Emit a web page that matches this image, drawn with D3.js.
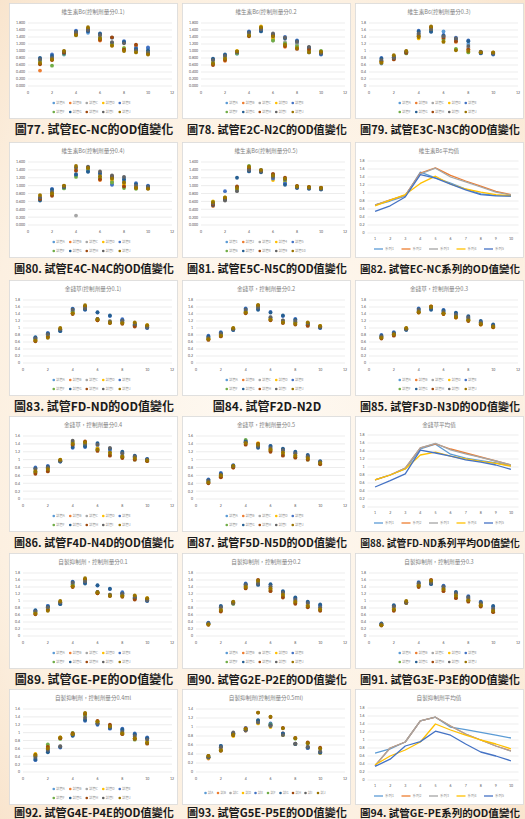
<!DOCTYPE html>
<html>
<head>
<meta charset="utf-8">
<script src="https://cdn.jsdelivr.net/npm/d3@7"></script>
<style>
  html, body { margin: 0; padding: 0; background: #fcf0e2; }
  svg { display: block; }
</style>
</head>
<body>
<script>
// ---- shared axes / labels ----
const days = [1, 2, 3, 4, 5, 6, 7, 8, 9, 10];
const xTicks = [0, 2, 4, 6, 8, 10, 12];
const tubeLabels = ["試管A", "試管B", "試管C", "試管D", "試管E", "試管F", "試管G", "試管H", "試管I", "試管J"];
const tubeLabelsNum = ["試管1", "試管2", "試管3", "試管4", "試管5", "試管6", "試管7", "試管8", "試管9", "試管10"];
const tubeLabelsShort = ["試A", "試B", "試C", "試D", "試E", "試F", "試G", "試H", "試I", "試J"];
const seriesNames = ["系列1", "系列2", "系列3", "系列4", "系列5"];
const tubeColors = ["#5b9bd5", "#ed7d31", "#a5a5a5", "#ffc000", "#4472c4", "#70ad47", "#255e91", "#9e480e", "#636363", "#997300"];
const seriesColors = ["#5b9bd5", "#ed7d31", "#a5a5a5", "#ffc000", "#4472c4"];

// ---- 維生素B6 ----
const b6Dose01 = [
  [.66, .82, .90, 1.47, 1.52, 1.36, 1.20, 1.25, 1.10, 1.08],
  [.44, .76, .95, 1.50, 1.60, 1.30, 1.16, 1.02, 1.16, .92],
  [.70, .80, .93, 1.52, 1.58, 1.40, 1.22, 1.05, 1.00, .98],
  [.64, .78, .97, 1.48, 1.64, 1.34, 1.18, 1.08, .98, .94],
  [.78, .90, .96, 1.58, 1.56, 1.48, 1.24, 1.28, 1.08, 1.10],
  [.72, .58, .92, 1.46, 1.62, 1.38, 1.20, 1.08, 1.00, .98],
  [.80, .86, .94, 1.55, 1.57, 1.50, 1.38, 1.26, 1.05, 1.02],
  [.62, .74, .96, 1.49, 1.62, 1.32, 1.39, 1.04, 1.18, .92],
  [.76, .80, .99, 1.53, 1.60, 1.45, 1.25, 1.22, 1.02, .96],
  [.66, .76, 1.00, 1.45, 1.68, 1.36, 1.15, 1.00, .96, .90]
];
const b6Dose02 = [
  [.68, .82, .92, 1.48, 1.58, 1.36, 1.20, 1.22, .96, .92],
  [.62, .72, .96, 1.45, 1.62, 1.40, 1.12, 1.12, 1.00, .96],
  [.70, .80, .94, 1.50, 1.64, 1.30, 1.26, 1.18, 1.04, .98],
  [.72, .76, 1.00, 1.47, 1.70, 1.34, 1.16, 1.10, 1.02, .94],
  [.76, .88, .95, 1.56, 1.60, 1.46, 1.40, 1.30, 1.08, .90],
  [.66, .84, .93, 1.46, 1.66, 1.30, 1.22, 1.14, .98, 1.00],
  [.78, .90, .98, 1.54, 1.56, 1.48, 1.36, 1.28, 1.10, .92],
  [.60, .74, .97, 1.42, 1.65, 1.44, 1.14, 1.06, 1.04, .96],
  [.74, .86, .96, 1.52, 1.62, 1.50, 1.38, 1.26, 1.12, .94],
  [.64, .78, .99, 1.44, 1.68, 1.42, 1.18, 1.08, .96, .98]
];
const b6Dose03 = [
  [.64, .80, .94, 1.52, 1.58, 1.56, 1.30, 1.20, .94, .92],
  [.70, .78, .96, 1.46, 1.66, 1.36, 1.26, 1.06, .96, .94],
  [.72, .82, .95, 1.48, 1.62, 1.40, 1.30, 1.10, .95, .93],
  [.68, .86, .98, 1.36, 1.64, 1.28, 1.04, .98, .97, .95],
  [.80, .84, .97, 1.58, 1.56, 1.46, 1.38, 1.30, .93, .90],
  [.72, .80, .93, 1.44, 1.60, 1.32, 1.06, .96, .96, .94],
  [.78, .82, .96, 1.56, 1.55, 1.44, 1.34, 1.28, .94, .92],
  [.70, .76, .95, 1.42, 1.68, 1.38, 1.28, 1.04, .97, .95],
  [.74, .80, .99, 1.50, 1.62, 1.42, 1.36, 1.14, .98, .93],
  [.66, .88, 1.00, 1.40, 1.70, 1.26, 1.02, 1.00, .96, .96]
];
const b6Dose04 = [
  [.66, .86, .94, 1.30, 1.36, 1.22, 1.04, 1.20, .96, .98],
  [.70, .78, .98, 1.40, 1.44, 1.14, 1.10, 1.00, .94, .94],
  [.72, .82, .96, .24, 1.40, 1.28, 1.12, 1.06, .98, .96],
  [.74, .80, .97, 1.44, 1.46, 1.18, 1.16, 1.02, .96, .95],
  [.68, .92, .95, 1.26, 1.38, 1.30, 1.02, 1.12, 1.06, 1.00],
  [.64, .76, .93, 1.22, 1.42, 1.20, 1.08, .94, .92, .94],
  [.62, .90, .96, 1.28, 1.35, 1.32, 1.20, 1.16, 1.04, .98],
  [.66, .74, .99, 1.38, 1.46, 1.16, 1.24, .98, .95, .93],
  [.70, .84, .97, 1.46, 1.48, 1.36, 1.26, 1.22, 1.00, .97],
  [.76, .80, 1.00, 1.50, 1.45, 1.24, 1.18, 1.08, .94, .92]
];
const b6Dose05 = [
  [.52, .66, .90, 1.38, 1.40, 1.22, 1.04, .96, .94, .92],
  [.48, .64, .92, 1.42, 1.38, 1.26, 1.10, .97, .95, .93],
  [.54, .68, .88, 1.44, 1.36, 1.20, 1.08, .95, .93, .91],
  [.60, .70, .94, 1.46, 1.35, 1.14, 1.12, .98, .96, .94],
  [.56, .86, .96, 1.38, 1.37, 1.18, 1.06, .96, .94, .92],
  [.58, .66, .90, 1.50, 1.36, 1.24, 1.14, .98, .95, .93],
  [.50, .64, 1.20, 1.36, 1.34, 1.28, 1.02, .94, .92, .90],
  [.52, .68, .98, 1.44, 1.38, 1.30, 1.20, .99, .97, .95],
  [.55, .62, .86, 1.40, 1.36, 1.22, 1.16, .96, .94, .92],
  [.58, .70, .94, 1.48, 1.40, 1.26, 1.18, .98, .96, .94]
];
const b6Mean = [
  [.70, .80, .92, 1.52, 1.38, 1.25, 1.10, .98, .94, .93],
  [.70, .83, .94, 1.50, 1.63, 1.44, 1.30, 1.17, 1.04, .96],
  [.70, .82, .94, 1.48, 1.62, 1.40, 1.28, 1.15, 1.02, .95],
  [.68, .82, .96, 1.24, 1.42, 1.22, 1.10, 1.02, .96, .93],
  [.54, .68, .90, 1.46, 1.37, 1.22, 1.08, .96, .93, .92]
];

// ---- 金錢草 ----
const jqDose01 = [
  [.74, .84, .92, 1.48, 1.54, 1.26, 1.18, 1.20, 1.10, 1.02],
  [.64, .76, .96, 1.42, 1.60, 1.24, 1.16, 1.16, 1.06, 1.06],
  [.70, .80, .94, 1.50, 1.58, 1.26, 1.20, 1.18, 1.12, 1.04],
  [.66, .78, .98, 1.44, 1.62, 1.22, 1.18, 1.14, 1.14, 1.08],
  [.72, .86, .93, 1.55, 1.52, 1.44, 1.34, 1.25, 1.08, 1.00],
  [.68, .80, .95, 1.46, 1.58, 1.24, 1.16, 1.16, 1.08, 1.04],
  [.73, .84, .91, 1.54, 1.53, 1.45, 1.36, 1.22, 1.10, 1.01],
  [.62, .74, .97, 1.40, 1.62, 1.22, 1.14, 1.12, 1.04, 1.06],
  [.70, .82, .96, 1.52, 1.56, 1.26, 1.18, 1.20, 1.12, 1.02],
  [.64, .72, 1.00, 1.42, 1.65, 1.25, 1.15, 1.14, 1.16, 1.08]
];
const jqDose02 = [
  [.74, .84, .95, 1.50, 1.56, 1.30, 1.20, 1.20, 1.12, 1.04],
  [.68, .78, .97, 1.44, 1.62, 1.26, 1.18, 1.16, 1.08, 1.02],
  [.72, .82, .96, 1.48, 1.60, 1.32, 1.22, 1.18, 1.10, 1.05],
  [.70, .80, .99, 1.46, 1.64, 1.24, 1.20, 1.14, 1.14, 1.06],
  [.78, .88, .94, 1.56, 1.54, 1.46, 1.34, 1.26, 1.10, 1.00],
  [.70, .80, .96, 1.46, 1.60, 1.26, 1.18, 1.16, 1.08, 1.03],
  [.76, .86, .95, 1.54, 1.52, 1.44, 1.36, 1.24, 1.12, 1.01],
  [.66, .76, .98, 1.42, 1.64, 1.22, 1.14, 1.10, 1.06, 1.04],
  [.72, .84, .97, 1.52, 1.58, 1.30, 1.22, 1.20, 1.14, 1.03],
  [.68, .78, 1.00, 1.44, 1.66, 1.24, 1.16, 1.12, 1.16, 1.06]
];
const jqDose03 = [
  [.74, .84, .96, 1.50, 1.56, 1.48, 1.38, 1.28, 1.16, 1.06],
  [.72, .80, .98, 1.46, 1.60, 1.42, 1.32, 1.24, 1.12, 1.04],
  [.74, .82, .97, 1.48, 1.58, 1.44, 1.36, 1.26, 1.14, 1.06],
  [.76, .86, .99, 1.44, 1.62, 1.40, 1.30, 1.22, 1.10, 1.02],
  [.80, .88, .95, 1.56, 1.54, 1.52, 1.42, 1.32, 1.18, 1.08],
  [.72, .80, .96, 1.46, 1.58, 1.42, 1.34, 1.24, 1.12, 1.04],
  [.78, .86, .95, 1.54, 1.52, 1.50, 1.44, 1.34, 1.20, 1.10],
  [.70, .78, .98, 1.44, 1.62, 1.40, 1.30, 1.20, 1.10, 1.02],
  [.76, .84, .97, 1.52, 1.58, 1.46, 1.38, 1.30, 1.16, 1.06],
  [.72, .82, 1.00, 1.46, 1.60, 1.42, 1.32, 1.22, 1.12, 1.04]
];
const jqDose04 = [
  [.70, .80, .96, 1.36, 1.36, 1.30, 1.20, 1.12, 1.06, 1.00],
  [.66, .74, .98, 1.40, 1.40, 1.26, 1.14, 1.08, 1.02, .98],
  [.72, .78, .97, 1.44, 1.42, 1.36, 1.22, 1.10, 1.04, .99],
  [.74, .76, .99, 1.46, 1.44, 1.28, 1.16, 1.06, 1.02, .98],
  [.80, .84, .95, 1.30, 1.32, 1.40, 1.26, 1.18, 1.08, 1.02],
  [.68, .72, .96, 1.42, 1.38, 1.24, 1.12, 1.06, 1.00, .97],
  [.78, .82, .95, 1.32, 1.34, 1.42, 1.28, 1.20, 1.10, 1.01],
  [.64, .70, .98, 1.38, 1.46, 1.22, 1.10, 1.04, 1.00, .96],
  [.76, .80, .97, 1.48, 1.40, 1.38, 1.30, 1.16, 1.08, 1.00],
  [.70, .76, 1.00, 1.40, 1.44, 1.26, 1.18, 1.08, 1.04, .98]
];
const jqDose05 = [
  [.44, .60, .82, 1.44, 1.36, 1.28, 1.20, 1.12, 1.06, .92],
  [.42, .56, .80, 1.40, 1.40, 1.24, 1.14, 1.08, 1.02, .90],
  [.46, .62, .84, 1.46, 1.38, 1.30, 1.22, 1.14, 1.08, .93],
  [.48, .58, .81, 1.42, 1.42, 1.26, 1.16, 1.10, 1.04, .91],
  [.50, .66, .86, 1.48, 1.32, 1.34, 1.26, 1.18, 1.10, .95],
  [.44, .58, .82, 1.50, 1.36, 1.22, 1.12, 1.06, 1.00, .89],
  [.48, .64, .85, 1.46, 1.30, 1.35, 1.28, 1.20, 1.12, .96],
  [.40, .55, .80, 1.38, 1.40, 1.20, 1.10, 1.05, 1.00, .88],
  [.46, .62, .83, 1.44, 1.34, 1.30, 1.24, 1.16, 1.08, .94],
  [.42, .60, .84, 1.42, 1.38, 1.26, 1.18, 1.10, 1.04, .92]
];
const jqMean = [
  [.68, .80, .95, 1.45, 1.57, 1.32, 1.22, 1.16, 1.10, 1.03],
  [.68, .80, .97, 1.48, 1.58, 1.45, 1.35, 1.25, 1.15, 1.05],
  [.68, .80, .97, 1.48, 1.59, 1.43, 1.33, 1.24, 1.15, 1.05],
  [.68, .80, .95, 1.30, 1.37, 1.27, 1.20, 1.14, 1.09, 1.02],
  [.50, .66, .83, 1.42, 1.35, 1.27, 1.18, 1.12, 1.05, .94]
];

// ---- 自製抑制劑 ----
const zjDose01 = [
  [.74, .86, .92, 1.48, 1.54, 1.25, 1.17, 1.20, 1.10, 1.02],
  [.64, .76, .96, 1.42, 1.60, 1.24, 1.16, 1.16, 1.06, 1.06],
  [.70, .80, .94, 1.50, 1.58, 1.26, 1.18, 1.18, 1.12, 1.04],
  [.66, .78, .98, 1.44, 1.62, 1.22, 1.18, 1.14, 1.14, 1.08],
  [.72, .86, .93, 1.55, 1.52, 1.44, 1.34, 1.25, 1.08, 1.00],
  [.68, .80, .95, 1.46, 1.58, 1.24, 1.16, 1.16, 1.08, 1.04],
  [.73, .84, .91, 1.54, 1.50, 1.45, 1.35, 1.22, 1.10, 1.01],
  [.62, .74, .97, 1.40, 1.62, 1.22, 1.14, 1.12, 1.04, 1.06],
  [.70, .82, .96, 1.52, 1.56, 1.26, 1.18, 1.20, 1.12, 1.02],
  [.64, .72, 1.00, 1.42, 1.65, 1.25, 1.15, 1.14, 1.16, 1.08]
];
const zjDose02 = [
  [.36, .78, .92, 1.44, 1.52, 1.40, 1.20, 1.02, .92, .84],
  [.34, .74, .94, 1.40, 1.56, 1.34, 1.16, .98, .88, .78],
  [.35, .80, .93, 1.46, 1.58, 1.38, 1.22, 1.00, .90, .80],
  [.33, .76, .96, 1.42, 1.50, 1.32, 1.14, .96, .86, .76],
  [.38, .84, .95, 1.50, 1.48, 1.46, 1.26, 1.08, .96, .88],
  [.34, .72, .92, 1.38, 1.54, 1.30, 1.12, .94, .84, .74],
  [.37, .86, .97, 1.48, 1.46, 1.48, 1.28, 1.10, .98, .90],
  [.32, .70, .94, 1.36, 1.60, 1.28, 1.10, .92, .82, .72],
  [.36, .82, .95, 1.46, 1.50, 1.42, 1.24, 1.04, .94, .82],
  [.33, .74, .98, 1.40, 1.58, 1.36, 1.18, .98, .86, .76]
];
const zjDose03 = [
  [.34, .80, .94, 1.48, 1.54, 1.38, 1.18, 1.08, .94, .80],
  [.32, .76, .96, 1.44, 1.58, 1.34, 1.14, 1.04, .90, .74],
  [.33, .82, .95, 1.50, 1.56, 1.36, 1.20, 1.06, .92, .76],
  [.31, .78, .98, 1.46, 1.52, 1.30, 1.12, 1.02, .88, .72],
  [.36, .86, .97, 1.54, 1.50, 1.44, 1.24, 1.14, .98, .84],
  [.32, .74, .94, 1.42, 1.56, 1.32, 1.10, 1.00, .86, .70],
  [.35, .88, .96, 1.52, 1.48, 1.42, 1.26, 1.12, .96, .86],
  [.30, .72, .95, 1.40, 1.60, 1.28, 1.08, .98, .84, .68],
  [.34, .84, .97, 1.50, 1.52, 1.40, 1.22, 1.10, .94, .78],
  [.31, .76, 1.00, 1.44, 1.58, 1.34, 1.16, 1.02, .88, .72]
];
const zjDose04 = [
  [.34, .54, .64, .94, 1.34, 1.22, 1.12, 1.06, .90, .86],
  [.44, .62, .86, .98, 1.46, 1.28, 1.18, 1.00, .86, .76],
  [.36, .58, .66, .96, 1.36, 1.24, 1.14, 1.04, .94, .84],
  [.46, .66, .88, .97, 1.42, 1.28, 1.16, .98, .84, .78],
  [.30, .52, .62, .93, 1.30, 1.20, 1.10, 1.10, .98, .88],
  [.40, .70, .84, .99, 1.44, 1.26, 1.18, 1.00, .82, .74],
  [.32, .50, .64, .92, 1.32, 1.22, 1.12, 1.08, .96, .86],
  [.42, .64, .86, .98, 1.48, 1.30, 1.20, .96, .84, .72],
  [.38, .56, .65, .95, 1.38, 1.24, 1.14, 1.02, .92, .82],
  [.44, .60, .88, .96, 1.50, 1.28, 1.16, .98, .86, .74]
];
const zjDose05 = [
  [.32, .58, .84, .94, 1.10, 1.02, .84, .62, .54, .44],
  [.30, .52, .82, .92, 1.12, 1.04, .86, .63, .55, .43],
  [.34, .54, .86, .96, 1.14, 1.06, .84, .62, .56, .45],
  [.31, .50, .80, .94, 1.08, 1.00, .82, .62, .54, .42],
  [.33, .56, .85, .98, 1.12, 1.08, .85, .63, .53, .44],
  [.35, .48, .82, .95, 1.14, 1.06, .83, .74, .64, .52],
  [.32, .58, .86, .93, 1.15, 1.04, .86, .62, .55, .43],
  [.36, .47, .82, .97, 1.32, 1.22, .98, .76, .66, .54],
  [.33, .55, .88, .92, 1.10, 1.02, .82, .63, .56, .46],
  [.36, .48, .83, .96, 1.32, 1.23, .97, .75, .64, .52]
];
const zjMean = [
  [.67, .78, .95, 1.48, 1.57, 1.32, 1.26, 1.19, 1.12, 1.05],
  [.36, .80, .95, 1.48, 1.57, 1.35, 1.15, 1.00, .85, .73],
  [.36, .80, .95, 1.48, 1.57, 1.35, 1.15, 1.00, .85, .72],
  [.38, .60, .75, .95, 1.40, 1.25, 1.12, 1.00, .90, .78],
  [.34, .52, .85, .96, 1.22, 1.12, .90, .70, .60, .48]
];

// ---- panel list (reading order, three per row) ----
const panels = [
  { kind: "scatter", title: "維生素B6(控制劑量分0.1)", caption: "圖77. 試管EC-NC的OD值變化", data: b6Dose01, ymax: 1.8, fmt: ".3f", legend: tubeLabels },
  { kind: "scatter", title: "維生素B6(控制劑量分0.2", caption: "圖78. 試管E2C-N2C的OD值變化", data: b6Dose02, ymax: 1.8, fmt: ".3f", legend: tubeLabels },
  { kind: "scatter", title: "維生素B6(控制劑量分0.3)", caption: "圖79. 試管E3C-N3C的OD值變化", data: b6Dose03, ymax: 1.8, fmt: "~g", legend: tubeLabels },
  { kind: "scatter", title: "維生素B6(控制劑量分0.4)", caption: "圖80. 試管E4C-N4C的OD值變化", data: b6Dose04, ymax: 1.6, fmt: ".3f", legend: tubeLabels },
  { kind: "scatter", title: "維生素B6(控制劑量分0.5)", caption: "圖81. 試管E5C-N5C的OD值變化", data: b6Dose05, ymax: 1.6, fmt: ".3f", legend: tubeLabelsNum },
  { kind: "line", title: "維生素B6平均值", caption: "圖82. 試管EC-NC系列的OD值變化", data: b6Mean, ymax: 1.8 },
  { kind: "scatter", title: "金錢草(控制劑量分0.1)", caption: "圖83. 試管FD-ND的OD值變化", data: jqDose01, ymax: 1.8, fmt: "~g", legend: tubeLabels },
  { kind: "scatter", title: "金錢草，控制劑量分0.2", caption: "圖84. 試管F2D-N2D", data: jqDose02, ymax: 1.8, fmt: "~g", legend: tubeLabels },
  { kind: "scatter", title: "金錢草，控制劑量分0.3", caption: "圖85. 試管F3D-N3D的OD值變化", data: jqDose03, ymax: 1.8, fmt: "~g", legend: tubeLabels },
  { kind: "scatter", title: "金錢草，控制劑量分0.4", caption: "圖86. 試管F4D-N4D的OD值變化", data: jqDose04, ymax: 1.6, fmt: "~g", legend: tubeLabels },
  { kind: "scatter", title: "金錢草，控制劑量分0.5", caption: "圖87. 試管F5D-N5D的OD值變化", data: jqDose05, ymax: 1.6, fmt: "~g", legend: tubeLabels },
  { kind: "line", title: "金錢草平均值", caption: "圖88. 試管FD-ND系列平均OD值變化", data: jqMean, ymax: 1.8 },
  { kind: "scatter", title: "自製抑制劑，控制劑量分0.1", caption: "圖89. 試管GE-PE的OD值變化", data: zjDose01, ymax: 1.8, fmt: "~g", legend: tubeLabels },
  { kind: "scatter", title: "自製抑制劑，控制劑量分0.2", caption: "圖90. 試管G2E-P2E的OD值變化", data: zjDose02, ymax: 1.8, fmt: "~g", legend: tubeLabels },
  { kind: "scatter", title: "自製抑制劑，控制劑量分0.3", caption: "圖91. 試管G3E-P3E的OD值變化", data: zjDose03, ymax: 1.8, fmt: "~g", legend: tubeLabels },
  { kind: "scatter", title: "自製抑制劑，控制劑量分0.4ml", caption: "圖92. 試管G4E-P4E的OD值變化", data: zjDose04, ymax: 1.6, fmt: "~g", legend: tubeLabels },
  { kind: "scatter", title: "自製抑制劑(控制劑量分0.5ml)", caption: "圖93. 試管G5E-P5E的OD值變化", data: zjDose05, ymax: 1.4, fmt: "~g", legend: tubeLabelsShort, oneRow: true },
  { kind: "line", title: "自製抑制劑平均值", caption: "圖94. 試管GE-PE系列的OD值變化", data: zjMean, ymax: 1.8 }
];

// ---- page layout ----
const W = 525, H = 819;
const colX = [9, 182, 355];
const rowY = [3, 142, 280, 416, 553, 689];
const panelW = 168, panelH = 115;
const captionMax = 160, captionSize = 12;
const cjk = "'Noto Sans CJK TC', 'Noto Sans CJK SC', sans-serif";

const svg = d3.select("body").append("svg").attr("width", W).attr("height", H);

const defs = svg.append("defs");
const bg = defs.append("radialGradient").attr("id", "paper").attr("cx", "50%").attr("cy", "50%").attr("r", "75%");
bg.append("stop").attr("offset", "0%").attr("stop-color", "#fef9f2");
bg.append("stop").attr("offset", "70%").attr("stop-color", "#fcf0e1");
bg.append("stop").attr("offset", "100%").attr("stop-color", "#f8e2c9");
svg.append("rect").attr("width", W).attr("height", H).attr("fill", "url(#paper)");

const yTicksFor = ymax => d3.range(0, Math.round(ymax / 0.2) + 1).map(i => +(i * 0.2).toFixed(1));

function frame(g, p) {
  g.append("rect").attr("x", 0.5).attr("y", 0.5).attr("width", panelW).attr("height", panelH)
    .attr("fill", "#ffffff").attr("stroke", "#d9d9d9").attr("stroke-width", 0.8);
  g.append("text").attr("x", panelW / 2).attr("y", 11).attr("text-anchor", "middle")
    .attr("font-family", cjk).attr("font-size", 5.6).attr("fill", "#7f7f7f").text(p.title);
}

function gridAndY(g, y, x0, x1, ticks, fmt) {
  g.append("g").selectAll("line").data(ticks).join("line")
    .attr("x1", x0).attr("x2", x1).attr("y1", d => y(d)).attr("y2", d => y(d))
    .attr("stroke", "#d9d9d9").attr("stroke-width", 0.5);
  g.append("g").selectAll("text").data(ticks).join("text")
    .attr("x", x0 - 3).attr("y", d => y(d) + 1.4).attr("text-anchor", "end")
    .attr("font-family", "Calibri, 'Liberation Sans', sans-serif").attr("font-size", 4)
    .attr("fill", "#595959").text(d => d3.format(fmt)(d));
}

function drawScatter(g, p) {
  const left = p.fmt === ".3f" ? 19 : 14;
  const x = d3.scaleLinear().domain([0, 12]).range([left, 163]);
  const y = d3.scaleLinear().domain([0, p.ymax]).range([83, 20]);
  gridAndY(g, y, left, 163, yTicksFor(p.ymax), p.fmt);
  g.append("g").selectAll("text").data(xTicks).join("text")
    .attr("x", d => x(d)).attr("y", 91).attr("text-anchor", "middle")
    .attr("font-family", "Calibri, 'Liberation Sans', sans-serif").attr("font-size", 4)
    .attr("fill", "#595959").text(d => d);
  p.data.forEach((vals, si) => {
    g.append("g").selectAll("circle").data(vals).join("circle")
      .attr("cx", (d, i) => x(days[i])).attr("cy", d => y(d)).attr("r", 1.9)
      .attr("fill", tubeColors[si]);
  });
  // legend
  const perRow = p.oneRow ? 10 : 5;
  const step = p.oneRow ? 12.5 : 16.5;
  const rows = p.oneRow ? [0] : [0, 1];
  rows.forEach(r => {
    const items = p.legend.slice(r * perRow, r * perRow + perRow);
    const start = panelW / 2 - (items.length * step) / 2 + 2;
    const ly = p.oneRow ? 104 : 100 + r * 9;
    items.forEach((lab, k) => {
      const idx = r * perRow + k;
      g.append("circle").attr("cx", start + k * step).attr("cy", ly).attr("r", 1.3).attr("fill", tubeColors[idx]);
      g.append("text").attr("x", start + k * step + 2.5).attr("y", ly + 1.2)
        .attr("font-family", cjk).attr("font-size", 3.3).attr("fill", "#8c8c8c").text(lab);
    });
  });
}

function drawLine(g, p) {
  const xb = d3.scaleBand().domain(days).range([12.5, 163.5]);
  const xc = d => xb(d) + xb.bandwidth() / 2;
  const y = d3.scaleLinear().domain([0, p.ymax]).range([91, 19]);
  gridAndY(g, y, 12.5, 163.5, yTicksFor(p.ymax), "~g");
  g.append("g").selectAll("text").data(days).join("text")
    .attr("x", d => xc(d)).attr("y", 98).attr("text-anchor", "middle")
    .attr("font-family", "Calibri, 'Liberation Sans', sans-serif").attr("font-size", 4)
    .attr("fill", "#595959").text(d => d);
  const line = d3.line().x((d, i) => xc(days[i])).y(d => y(d));
  p.data.forEach((vals, si) => {
    g.append("path").datum(vals).attr("d", line).attr("fill", "none")
      .attr("stroke", seriesColors[si]).attr("stroke-width", 1.3).attr("stroke-linejoin", "round");
  });
  const step = 27.5, start = panelW / 2 - 2 * step - 10;
  seriesNames.forEach((n, k) => {
    const lx = start + k * step;
    g.append("line").attr("x1", lx).attr("x2", lx + 9).attr("y1", 107).attr("y2", 107)
      .attr("stroke", seriesColors[k]).attr("stroke-width", 1.3);
    g.append("text").attr("x", lx + 11).attr("y", 108.3)
      .attr("font-family", cjk).attr("font-size", 3.5).attr("fill", "#8c8c8c").text(n);
  });
}

panels.forEach((p, i) => {
  const col = i % 3, row = Math.floor(i / 3);
  const g = svg.append("g").attr("transform", `translate(${colX[col]},${rowY[row]})`);
  frame(g, p);
  if (p.kind === "scatter") drawScatter(g, p); else drawLine(g, p);
  const cap = svg.append("text").attr("x", colX[col] + panelW / 2 + 1)
    .attr("y", Math.min(rowY[row] + 131, H - 2.5))
    .attr("text-anchor", "middle").attr("font-family", cjk).attr("font-weight", 700)
    .attr("font-size", captionSize).attr("fill", "#1a1a1a").text(p.caption);
  // long captions get a smaller font so they stay inside their column
  const len = cap.node().getComputedTextLength();
  if (len > captionMax) cap.attr("font-size", captionSize * captionMax / len);
});
</script>
</body>
</html>
